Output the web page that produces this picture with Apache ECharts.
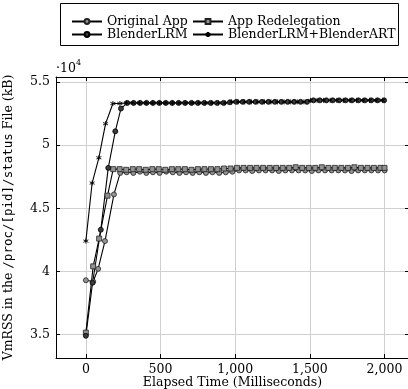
<!DOCTYPE html>
<html>
<head>
<meta charset="utf-8">
<script src="https://cdn.jsdelivr.net/npm/echarts@6/dist/echarts.min.js"></script>
<style>html,body{margin:0;padding:0;background:#fff}#c{width:408px;height:389px}</style>
</head>
<body>
<div id="c"></div>
<script>
// ---- data (y in units of 10^4 kB) ----
const seriesNames = ['Original App', 'App Redelegation', 'BlenderLRM', 'BlenderLRM+BlenderART'];

const origX = [0, 49, 82, 128, 188, 230, 273, 318, 362, 405, 449, 494, 538, 582, 627, 671, 715, 760, 804, 848, 893, 937, 981, 1026, 1070, 1114, 1159, 1203, 1247, 1292, 1336, 1380, 1425, 1469, 1513, 1558, 1602, 1646, 1691, 1735, 1779, 1824, 1868, 1912, 1957, 2001];
const origY = [3.93, 3.92, 4.02, 4.24, 4.61, 4.78, 4.785, 4.78, 4.79, 4.78, 4.785, 4.78, 4.79, 4.785, 4.78, 4.785, 4.78, 4.785, 4.78, 4.785, 4.78, 4.785, 4.79, 4.80, 4.80, 4.795, 4.80, 4.80, 4.80, 4.795, 4.80, 4.80, 4.80, 4.80, 4.795, 4.80, 4.80, 4.80, 4.80, 4.80, 4.795, 4.80, 4.80, 4.80, 4.80, 4.80];

const redelX = [0, 49, 89, 145, 183, 226, 270, 314, 357, 401, 445, 488, 532, 576, 619, 663, 707, 750, 794, 838, 881, 925, 969, 1012, 1056, 1100, 1143, 1187, 1231, 1274, 1318, 1362, 1405, 1449, 1493, 1536, 1580, 1624, 1667, 1711, 1755, 1798, 1842, 1886, 1929, 1973, 2000];
const redelY = [3.515, 4.04, 4.26, 4.60, 4.81, 4.81, 4.805, 4.81, 4.81, 4.805, 4.81, 4.81, 4.805, 4.81, 4.81, 4.81, 4.805, 4.81, 4.81, 4.81, 4.81, 4.815, 4.815, 4.82, 4.82, 4.82, 4.82, 4.82, 4.82, 4.82, 4.82, 4.82, 4.825, 4.82, 4.82, 4.82, 4.825, 4.82, 4.82, 4.82, 4.82, 4.825, 4.82, 4.82, 4.82, 4.82, 4.82];

const lrmX = [0, 45, 100, 150, 197, 235, 277, 320, 363, 406, 449, 492, 535, 578, 621, 664, 707, 750, 793, 836, 879, 922, 965, 1008, 1051, 1094, 1137, 1180, 1223, 1266, 1309, 1352, 1395, 1438, 1481, 1524, 1567, 1610, 1653, 1696, 1739, 1782, 1825, 1868, 1911, 1954, 1997];
const lrmY = [3.49, 3.91, 4.33, 4.82, 5.11, 5.29, 5.335, 5.335, 5.335, 5.335, 5.335, 5.335, 5.335, 5.335, 5.335, 5.335, 5.335, 5.335, 5.335, 5.335, 5.335, 5.335, 5.34, 5.343, 5.343, 5.343, 5.343, 5.343, 5.343, 5.343, 5.343, 5.343, 5.343, 5.343, 5.343, 5.355, 5.355, 5.355, 5.355, 5.355, 5.355, 5.355, 5.355, 5.355, 5.355, 5.355, 5.355];

const artX = [0, 42, 87, 132, 181, 228, 272, 316, 360, 404, 448, 492, 536, 580, 624, 668, 712, 756, 800, 844, 888, 932, 976, 1020, 1064, 1108, 1152, 1196, 1240, 1284, 1328, 1372, 1416, 1460, 1504, 1548, 1592, 1636, 1680, 1724, 1768, 1812, 1856, 1900, 1944, 1988];
const artY = [4.24, 4.70, 4.90, 5.17, 5.33, 5.33, 5.335, 5.335, 5.335, 5.335, 5.335, 5.335, 5.335, 5.335, 5.335, 5.335, 5.335, 5.335, 5.335, 5.335, 5.335, 5.335, 5.343, 5.343, 5.343, 5.343, 5.343, 5.343, 5.343, 5.343, 5.343, 5.343, 5.343, 5.343, 5.355, 5.355, 5.355, 5.355, 5.355, 5.355, 5.355, 5.355, 5.355, 5.355, 5.355, 5.355];

const xTicks = [0, 500, 1000, 1500, 2000];
const yTicks = [3.5, 4, 4.5, 5, 5.5];
const yExponentLabel = '·10';
const yExponent = '4';
const xTitle = 'Elapsed Time (Milliseconds)';

// ---- build ----
const pair = (xs, ys) => xs.map((x, i) => [x, ys[i]]);
const SERIF = 'DejaVu Serif';
const FS = 12.5;
const starPath = 'path://M0,-5L0,5M-4.33,-2.5L4.33,2.5M-4.33,2.5L4.33,-2.5';

const common = { type: 'line', xAxisIndex: 0, yAxisIndex: 0, lineStyle: { color: '#000', width: 1.1 }, z: 3 };

const chart = echarts.init(document.getElementById('c'), null, { renderer: 'canvas' });
const xMin = -200, xMax = 2164, yMin = 3.314, yMax = 5.540;
const tickStyle = { show: true, inside: true, length: 4, lineStyle: { color: '#000', width: 1 } };

chart.setOption({
  animation: false,
  backgroundColor: '#fff',
  grid: { left: 56, top: 77, width: 353, height: 281, containLabel: false, outerBoundsMode: 'none' },
  legend: [
    { data: [seriesNames[0], seriesNames[2]], orient: 'vertical', left: 66, top: 10, itemWidth: 30, itemHeight: 6, itemGap: 0,
      textStyle: { fontFamily: SERIF, fontSize: FS, color: '#000' } },
    { data: [seriesNames[1], seriesNames[3]], orient: 'vertical', left: 187, top: 10, itemWidth: 30, itemHeight: 6, itemGap: 0,
      textStyle: { fontFamily: SERIF, fontSize: FS, color: '#000' } }
  ],
  xAxis: [
    { type: 'value', min: xMin, max: xMax, position: 'bottom',
      name: xTitle, nameLocation: 'middle', nameGap: 18, nameMoveOverlap: false,
      nameTextStyle: { fontFamily: SERIF, fontSize: FS, color: '#000' },
      axisLine: { show: true, lineStyle: { color: '#000', width: 1 } },
      axisTick: Object.assign({ customValues: xTicks }, tickStyle),
      axisLabel: { customValues: xTicks, fontFamily: SERIF, fontSize: FS, color: '#000', margin: 5,
        formatter: v => String(v).replace(/\B(?=(\d{3})+(?!\d))/g, ',') },
      splitLine: { show: true, lineStyle: { color: '#d0d0d0', width: 1 } } },
    { type: 'value', min: xMin, max: xMax, position: 'top',
      axisLine: { show: true, onZero: false, lineStyle: { color: '#000', width: 1 } },
      axisTick: Object.assign({ customValues: xTicks }, tickStyle),
      axisLabel: { show: false }, splitLine: { show: false } }
  ],
  yAxis: [
    { type: 'value', min: yMin, max: yMax, position: 'left',
      name: 'VmRSS in the {m|/proc/[pid]/status} File (kB)', nameLocation: 'middle', nameGap: 41, nameMoveOverlap: false,
      nameTextStyle: { fontFamily: SERIF, fontSize: FS, color: '#000',
        rich: { m: { fontFamily: 'DejaVu Sans Mono', fontSize: FS, color: '#000' } } },
      axisLine: { show: true, onZero: false, lineStyle: { color: '#000', width: 1 } },
      axisTick: Object.assign({ customValues: yTicks }, tickStyle),
      axisLabel: { customValues: yTicks, fontFamily: SERIF, fontSize: FS, color: '#000', margin: 6 },
      splitLine: { show: true, lineStyle: { color: '#d0d0d0', width: 1 } } },
    { type: 'value', min: yMin, max: yMax, position: 'right',
      axisLine: { show: true, onZero: false, lineStyle: { color: '#000', width: 1 } },
      axisTick: Object.assign({ customValues: yTicks }, tickStyle),
      axisLabel: { show: false }, splitLine: { show: false } }
  ],
  graphic: [
    { type: 'rect', left: 60, top: 3, shape: { width: 338, height: 42 },
      style: { fill: 'transparent', stroke: '#000', lineWidth: 1 } },
    { type: 'text', left: 56, top: 59,
      style: { text: '{a|' + yExponentLabel + '}{b|' + yExponent + '}', fill: '#000',
        rich: { a: { fontFamily: SERIF, fontSize: FS, verticalAlign: 'bottom', lineHeight: 16 },
                b: { fontFamily: SERIF, fontSize: 8, verticalAlign: 'top', lineHeight: 16, padding: [0, 0, 6, 0] } } } }
  ],
  series: [
    Object.assign({}, common, { name: seriesNames[0], data: pair(origX, origY), symbol: 'circle', symbolSize: 5,
      itemStyle: { color: '#929292', borderColor: '#222', borderWidth: 0.8 } }),
    Object.assign({}, common, { name: seriesNames[1], data: pair(redelX, redelY), symbol: 'rect', symbolSize: 5,
      itemStyle: { color: '#929292', borderColor: '#222', borderWidth: 0.8 } }),
    Object.assign({}, common, { name: seriesNames[2], data: pair(lrmX, lrmY), symbol: 'circle', symbolSize: 5,
      itemStyle: { color: '#3a3a3a', borderColor: '#000', borderWidth: 0.8 } }),
    Object.assign({}, common, { name: seriesNames[3], data: pair(artX, artY), symbol: starPath, symbolSize: 5,
      itemStyle: { color: '#000', borderColor: '#000', borderWidth: 0.9 } })
  ]
});
</script>
</body>
</html>
